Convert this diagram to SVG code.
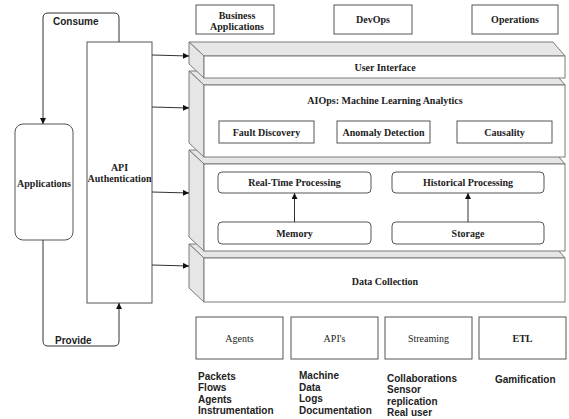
<svg xmlns="http://www.w3.org/2000/svg" width="569" height="419" viewBox="0 0 569 419">
<defs>
<style>
.bx{fill:#fff;stroke:#555;stroke-width:1}
.face{fill:#fff;stroke:#7a7a7a;stroke-width:1}
.side{fill:#e6e6e6;stroke:#7a7a7a;stroke-width:1}
.ser{font-family:"Liberation Serif",serif;font-size:10px;font-weight:bold;fill:#222;text-anchor:middle}
.sern{font-family:"Liberation Serif",serif;font-size:10px;fill:#222;text-anchor:middle}
.san{font-family:"Liberation Sans",Arial,sans-serif;font-size:10px;font-weight:bold;fill:#222}
.ln{fill:none;stroke:#333;stroke-width:1}
</style>
<marker id="ah" viewBox="0 0 10 10" refX="10" refY="5" markerWidth="6" markerHeight="6" markerUnits="userSpaceOnUse" orient="auto">
<path d="M0,0 L10,5 L0,10 z" fill="#111"/>
</marker>
</defs>
<rect width="569" height="419" fill="#fff"/>

<g id="layer-data-collection">
<polygon class="side" points="189,244 553,244 565,258 204,258"/>
<polygon class="side" points="189,244 204,258 204,302 189,288"/>
<rect class="face" x="204" y="258" width="361" height="44"/>
<text class="ser" x="385" y="284.5">Data Collection</text>
</g>

<g id="layer-processing">
<polygon class="side" points="189,150 553,150 565,164 204,164"/>
<polygon class="side" points="189,150 204,164 204,251 189,237"/>
<rect class="face" x="204" y="164" width="361" height="87"/>
</g>

<g id="layer-aiops">
<polygon class="side" points="189,71 553,71 565,85 204,85"/>
<polygon class="side" points="189,71 204,85 204,157 189,143"/>
<rect class="face" x="204" y="85" width="361" height="72"/>
<text class="ser" x="385" y="103.5">AIOps: Machine Learning Analytics</text>
</g>

<g id="layer-ui">
<polygon class="side" points="189,42 553,42 565,56 204,56"/>
<polygon class="side" points="189,42 204,56 204,78 189,64"/>
<rect class="face" x="204" y="56" width="361" height="22"/>
<text class="ser" x="385" y="70.5">User Interface</text>
</g>

<g id="business-applications">
<rect class="bx" x="196" y="5" width="78" height="29"/>
<text class="ser" x="237" y="18.5">Business</text>
<text class="ser" x="237" y="29.5">Applications</text>
</g>
<g id="devops">
<rect class="bx" x="334" y="5" width="78" height="29"/>
<text class="ser" x="373" y="22.5">DevOps</text>
</g>
<g id="operations">
<rect class="bx" x="472" y="5" width="86" height="29"/>
<text class="ser" x="515" y="22.5">Operations</text>
</g>

<g id="fault-discovery">
<rect class="bx" x="219" y="121" width="95" height="22"/>
<text class="ser" x="266.5" y="135.5">Fault Discovery</text>
</g>
<g id="anomaly-detection">
<rect class="bx" x="337" y="121" width="93" height="22"/>
<text class="ser" x="383.5" y="135.5">Anomaly Detection</text>
</g>
<g id="causality">
<rect class="bx" x="457" y="121" width="95" height="22"/>
<text class="ser" x="504.5" y="135.5">Causality</text>
</g>

<g id="real-time-processing">
<rect class="bx" x="218" y="172" width="153" height="21" rx="4"/>
<text class="ser" x="294.5" y="186">Real-Time Processing</text>
</g>
<g id="historical-processing">
<rect class="bx" x="392" y="172" width="152" height="21" rx="4"/>
<text class="ser" x="468" y="186">Historical Processing</text>
</g>
<g id="memory">
<rect class="bx" x="218" y="222" width="153" height="22" rx="4"/>
<text class="ser" x="294.5" y="236.5">Memory</text>
</g>
<g id="storage">
<rect class="bx" x="392" y="222" width="152" height="22" rx="4"/>
<text class="ser" x="468" y="236.5">Storage</text>
</g>

<g id="applications">
<rect class="bx" x="15" y="124" width="58" height="116" rx="8"/>
<text class="ser" x="44" y="186.5">Applications</text>
</g>
<g id="api-authentication">
<rect class="bx" x="87" y="42" width="65" height="261"/>
<text class="ser" x="119.5" y="170.5">API</text>
<text class="ser" x="119.5" y="181.5">Authentication</text>
</g>

<g id="agents">
<rect class="bx" x="196" y="317" width="87" height="42"/>
<text class="sern" x="239.5" y="342">Agents</text>
</g>
<g id="apis">
<rect class="bx" x="291" y="317" width="87" height="42"/>
<text class="sern" x="334.5" y="342">API's</text>
</g>
<g id="streaming">
<rect class="bx" x="385" y="317" width="87" height="42"/>
<text class="sern" x="428.5" y="342">Streaming</text>
</g>
<g id="etl">
<rect class="bx" x="479" y="317" width="87" height="42"/>
<text class="ser" x="522.5" y="342">ETL</text>
</g>

<g id="lists">
<text class="san" x="198" y="380">Packets</text>
<text class="san" x="198" y="391">Flows</text>
<text class="san" x="198" y="402.5">Agents</text>
<text class="san" x="198" y="414">Instrumentation</text>
<text class="san" x="299" y="379">Machine</text>
<text class="san" x="299" y="390.5">Data</text>
<text class="san" x="299" y="402">Logs</text>
<text class="san" x="299" y="413.5">Documentation</text>
<text class="san" x="387" y="382">Collaborations</text>
<text class="san" x="387" y="393">Sensor</text>
<text class="san" x="387" y="404.5">replication</text>
<text class="san" x="387" y="416">Real user</text>
<text class="san" x="495" y="383">Gamification</text>
</g>

<g id="connectors">
<path class="ln" d="M119,42 V18 Q119,13 114,13 H48 Q43,13 43,18 V124" marker-end="url(#ah)"/>
<path class="ln" d="M43,240 V341 Q43,346 48,346 H114 Q119,346 119,341 V303" marker-end="url(#ah)"/>
<path class="ln" d="M152,55 L189,56" marker-end="url(#ah)"/>
<path class="ln" d="M152,107 L189,108" marker-end="url(#ah)"/>
<path class="ln" d="M152,192 L189,193" marker-end="url(#ah)"/>
<path class="ln" d="M152,265 L189,266" marker-end="url(#ah)"/>
<path class="ln" d="M294.5,222 V193" marker-end="url(#ah)"/>
<path class="ln" d="M468,222 V193" marker-end="url(#ah)"/>
<text class="san" x="53" y="24.5">Consume</text>
<text class="san" x="55" y="343.5">Provide</text>
</g>
</svg>
